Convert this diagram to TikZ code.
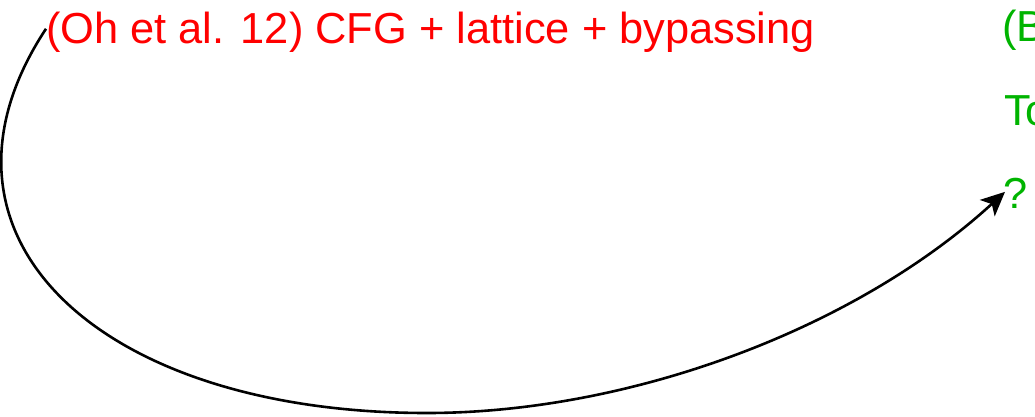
\documentclass[tikz,border=0pt]{standalone}
\usepackage{fontspec}
\setmainfont{Liberation Sans}
\usetikzlibrary{arrows.meta}
\definecolor{refred}{RGB}{255,0,0}
\definecolor{refgreen}{RGB}{0,180,0}
\begin{document}
\begin{tikzpicture}[x=1pt,y=-1pt,
  label/.style={inner sep=0pt,anchor=base west,font=\fontsize{43.4}{52}\selectfont},
  redlabel/.style={label,text=refred},
  greenlabel/.style={label,text=refgreen},
  link/.style={line width=2.6pt,-{Stealth[length=24pt,width=22pt,inset=6pt]}}]
  \useasboundingbox (0,0) rectangle (1035,417);
  % left item
  \node[redlabel] (oh) at (46,44) {(Oh et al. 12) CFG + lattice + bypassing};
  % right column
  \node[greenlabel] (b)  at (1002,42)  {(B};
  \node[greenlabel] (to) at (1004,125) {To};
  \node[greenlabel] (q)  at (1003,208) {?};
  % sweeping connector below the text
  \coordinate (low) at (427,413);
  \draw[link] ([yshift=4pt]oh.west) .. controls (-90,235) and (97,413) .. (low)
                        .. controls (627,413) and (853,331) .. ([xshift=2pt,yshift=1pt]q.west);
\end{tikzpicture}
\end{document}
